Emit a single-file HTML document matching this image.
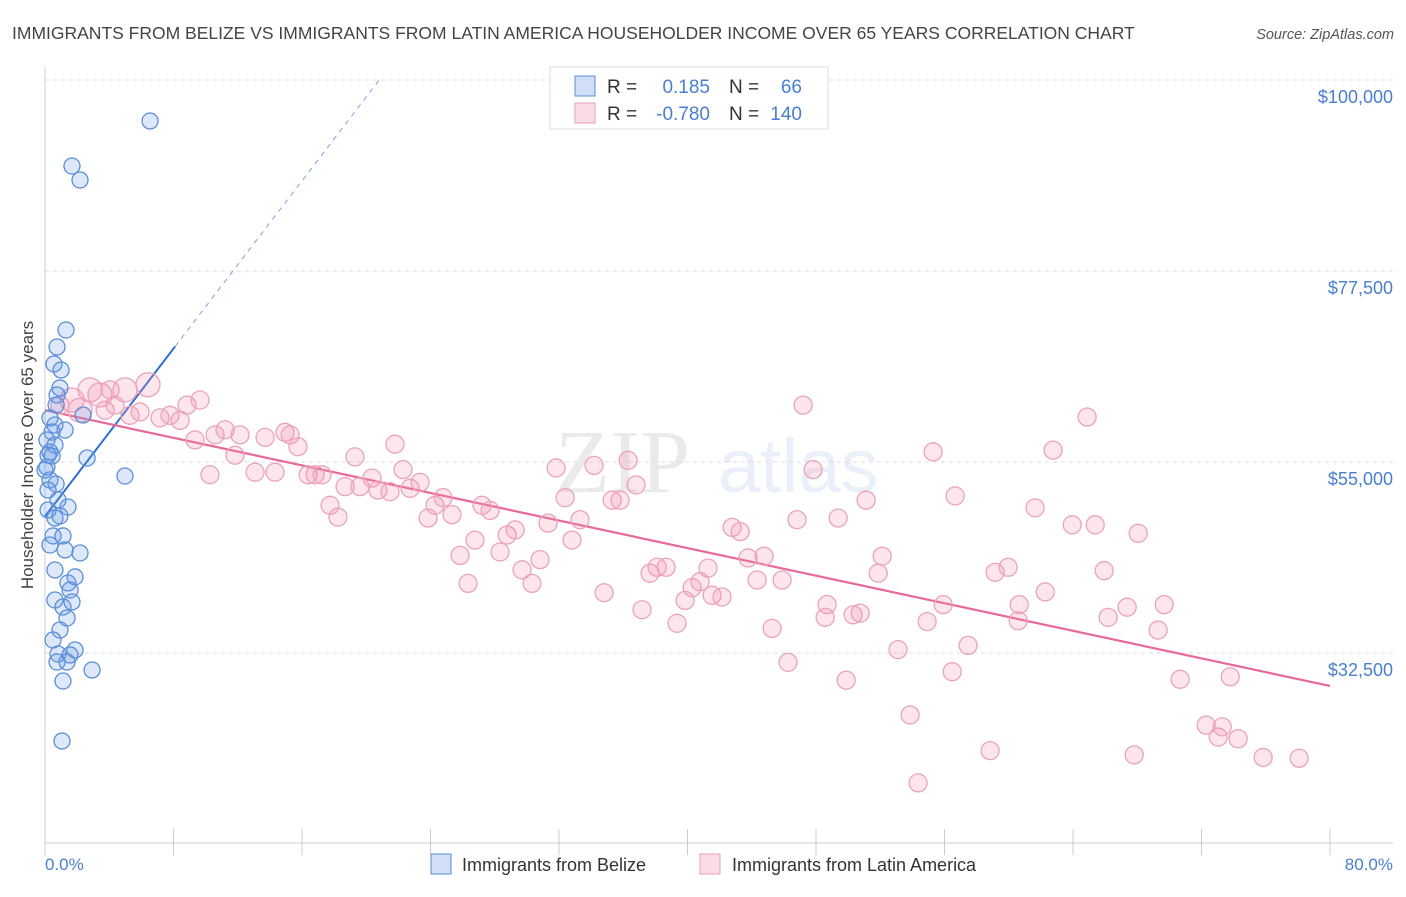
<!DOCTYPE html>
<html><head><meta charset="utf-8"><style>
body{margin:0;background:#fff;font-family:"Liberation Sans",sans-serif;}
</style></head><body>
<svg id="chart" width="1406" height="892" viewBox="0 0 1406 892" xmlns="http://www.w3.org/2000/svg" font-family="Liberation Sans, sans-serif">
<text x="12" y="39" font-size="17.5" fill="#444">IMMIGRANTS FROM BELIZE VS IMMIGRANTS FROM LATIN AMERICA HOUSEHOLDER INCOME OVER 65 YEARS CORRELATION CHART</text>
<text x="1394" y="39" font-size="14.5" fill="#555" font-style="italic" text-anchor="end">Source: ZipAtlas.com</text>
<g opacity="0.13">
<text x="555" y="492" font-size="90" font-family="Liberation Serif, serif" fill="#666">ZIP</text>
<text x="718" y="492" font-size="76" fill="#5b8fd6">atlas</text>
</g>
<g id="grid"></g>
<g id="axes"></g>
<g id="trend"></g>
<g id="pts"></g>
<text transform="translate(33,455) rotate(-90)" font-size="17" fill="#444" text-anchor="middle">Householder Income Over 65 years</text>
<text x="45" y="870" font-size="17" fill="#4a7fd0">0.0%</text>
<text x="1393" y="870" font-size="17" fill="#4a7fd0" text-anchor="end">80.0%</text>
<g>
<rect x="550" y="67" width="278" height="62" fill="#fff" stroke="#ddd"/>
<rect x="575" y="76" width="20" height="20" fill="rgba(100,150,230,0.3)" stroke="#5b8fd6"/>
<rect x="575" y="103" width="20" height="20" fill="rgba(240,140,170,0.3)" stroke="#e8a0b8"/>
<text x="607" y="93" font-size="19" fill="#333">R =</text>
<text x="710" y="93" font-size="19" fill="#4a7fd0" text-anchor="end">0.185</text>
<text x="729" y="93" font-size="19" fill="#333">N =</text>
<text x="802" y="93" font-size="19" fill="#4a7fd0" text-anchor="end">66</text>
<text x="607" y="120" font-size="19" fill="#333">R =</text>
<text x="710" y="120" font-size="19" fill="#4a7fd0" text-anchor="end">-0.780</text>
<text x="729" y="120" font-size="19" fill="#333">N =</text>
<text x="802" y="120" font-size="19" fill="#4a7fd0" text-anchor="end">140</text>
</g>
<g>
<rect x="431" y="854" width="20" height="20" fill="rgba(100,150,230,0.3)" stroke="#5b8fd6"/>
<text x="462" y="871" font-size="18" fill="#333">Immigrants from Belize</text>
</g>
<g>
<rect x="700" y="854" width="20" height="20" fill="rgba(240,140,170,0.3)" stroke="#e8a0b8"/>
<text x="732" y="871" font-size="18" fill="#333">Immigrants from Latin America</text>
</g>
</svg>
<script>
const yTicks=[100000,77500,55000,32500];
const yTickLabels=["$100,000","$77,500","$55,000","$32,500"];
const xTicks=[0,8,16,24,32,40,48,56,64,72,80];
const blueX=[6.54,1.68,2.18,1.31,0.75,0.56,1.0,0.93,0.75,0.69,2.37,0.31,1.25,0.44,0.12,0.62,0.31,2.62,4.98,0.12,0.31,0.69,0.19,0.81,1.43,0.93,0.62,0.5,1.12,2.18,1.25,0.62,1.87,1.43,1.56,0.62,1.68,1.12,1.37,0.93,0.5,1.87,0.81,1.56,0.75,1.37,2.93,1.12,1.06,0.19,0.44,0,0.62,0.19,0.31];
const blueY=[95170,89870,88220,70550,68550,66550,65840,63720,62890,61710,60540,60180,58770,58530,57590,57000,56180,55470,53350,54410,52880,52410,51700,50530,49700,48640,48410,46290,46290,44280,44640,42280,41460,40750,39920,38740,38510,37920,36620,35210,34030,32850,32380,32270,31440,31440,30500,29200,22130,55820,55710,54060,59360,49350,45220];
const pinkX=[1.68,2.8,3.42,4.05,4.98,6.41,0.93,2.18,3.74,5.29,7.16,7.78,8.41,8.84,5.92,9.34,10.27,10.59,11.21,11.83,12.14,13.08,13.7,14.32,14.94,15.26,15.75,16.38,16.81,17.25,17.75,18.24,18.68,19.3,19.61,20.36,20.73,21.48,21.79,22.29,22.73,23.35,23.85,24.28,24.78,25.34,25.84,26.34,26.77,27.21,27.71,28.33,28.77,29.27,29.7,30.32,30.82,31.32,31.82,32.38,32.81,33.31,34.18,34.81,35.31,35.8,36.3,36.8,37.17,37.67,38.11,38.67,39.35,39.85,40.29,40.78,41.28,41.53,42.15,42.78,43.28,43.77,44.33,44.77,45.27,45.89,46.26,46.82,47.2,47.82,48.57,48.69,49.38,49.88,50.31,50.75,51.12,51.87,52.12,53.11,53.86,54.36,54.92,55.29,55.92,56.48,56.66,57.47,58.84,59.15,59.96,60.59,60.65,61.64,62.27,62.76,63.95,64.88,65.38,65.94,66.19,67.37,67.81,68.06,69.3,69.68,70.67,72.29,73.04,73.29,73.79,74.28,75.84,78.08,9.65,4.36];
const pinkY=[62.3,63.5,62.9,63.5,63.5,64.1,61.7,61.1,61.1,60.5,60.2,60.5,59.9,61.7,60.9,57.6,53.5,58.2,58.8,55.8,58.2,53.8,57.9,53.8,58.5,58.2,56.8,53.5,53.5,53.5,49.9,48.5,52.1,55.6,52.1,53.1,51.7,51.5,57.1,54.1,51.9,52.6,48.4,49.9,50.8,48.8,44.0,40.7,45.8,49.9,49.3,44.4,46.4,47.0,42.3,40.7,43.5,47.8,54.3,50.8,45.8,48.2,54.6,39.6,50.5,50.5,55.2,52.3,37.6,41.9,42.6,42.6,36.0,38.7,40.2,40.9,42.5,39.3,39.1,47.3,46.8,43.7,41.1,43.9,35.4,41.1,31.4,48.2,61.7,54.1,36.7,38.2,48.4,29.3,37.0,37.2,50.5,41.9,43.9,32.9,25.2,17.2,36.2,56.2,38.2,30.3,51.0,33.4,21.0,42.0,42.6,36.3,38.2,49.6,39.7,56.4,47.6,60.3,47.6,42.2,36.7,37.9,20.5,46.6,35.2,38.2,29.4,24.0,22.6,23.8,29.7,22.4,20.2,20.1,62.3,61.7];
const bigPink=[0,1,2,4,5,7];
const blueTrend=[48600,2470];   // intercept ($), slope ($ per %)
const blueSolidMaxX=[8.1];
const pinkTrend=[61100,-406];

const X0=45,X1=1330,Y100=80,PX_PER_K=8.489;
function sx(p){return X0+(p/80)*(X1-X0);}
function sy(v){return Y100+(100000-v)/1000*PX_PER_K;}
const NS="http://www.w3.org/2000/svg";
function mk(tag,attrs,parent){const e=document.createElementNS(NS,tag);for(const k in attrs)e.setAttribute(k,attrs[k]);parent.appendChild(e);return e;}
const grid=document.getElementById('grid'),axes=document.getElementById('axes'),trend=document.getElementById('trend'),pts=document.getElementById('pts');
yTicks.forEach((v,i)=>{
  const l=mk('line',{x1:45,x2:1393,y1:sy(v),y2:sy(v),stroke:'#ddd','stroke-dasharray':'4,4'},grid);
  
  
  const t=mk('text',{x:1393,y:sy(v)+23,'font-size':18,fill:'#4a7fd0','text-anchor':'end'},grid);
  t.textContent=yTickLabels[i];
  
  
});
mk('line',{x1:45,x2:45,y1:67,y2:843,stroke:'#ccc'},axes);
mk('line',{x1:45,x2:1393,y1:843,y2:843,stroke:'#ccc'},axes);
xTicks.forEach(p=>{
  const t=mk('line',{x1:sx(p),x2:sx(p),y1:829,y2:855,stroke:'#ccc'},axes);
  
  
});
pinkX.forEach((x,i)=>{
  const r=bigPink.includes(i)?12:9;
  const c=mk('circle',{cx:sx(x),cy:sy(pinkY[i]*1000),r:r,fill:'rgba(240,140,170,0.22)',stroke:'#eba2bb','stroke-width':1.3},pts);
  
  
});
blueX.forEach((x,i)=>{
  const c=mk('circle',{cx:sx(x),cy:sy(blueY[i]),r:8,fill:'rgba(100,150,230,0.22)',stroke:'#5b8fd6','stroke-width':1.3},pts);
  
  
});
const bx1=blueSolidMaxX[0],bx2=(100000-blueTrend[0])/blueTrend[1];
const bl=mk('line',{x1:sx(0),y1:sy(blueTrend[0]),x2:sx(bx1),y2:sy(blueTrend[0]+blueTrend[1]*bx1),stroke:'#2f6fd6','stroke-width':2},trend);


const bd=mk('line',{x1:sx(bx1),y1:sy(blueTrend[0]+blueTrend[1]*bx1),x2:sx(bx2),y2:sy(100000),stroke:'#7aa4e0','stroke-width':1,'stroke-dasharray':'5,5'},trend);


const pl=mk('line',{x1:sx(0),y1:sy(pinkTrend[0]),x2:sx(80),y2:sy(pinkTrend[0]+pinkTrend[1]*80),stroke:'#e8689a','stroke-width':2.2},trend);


</script>
</body></html>
